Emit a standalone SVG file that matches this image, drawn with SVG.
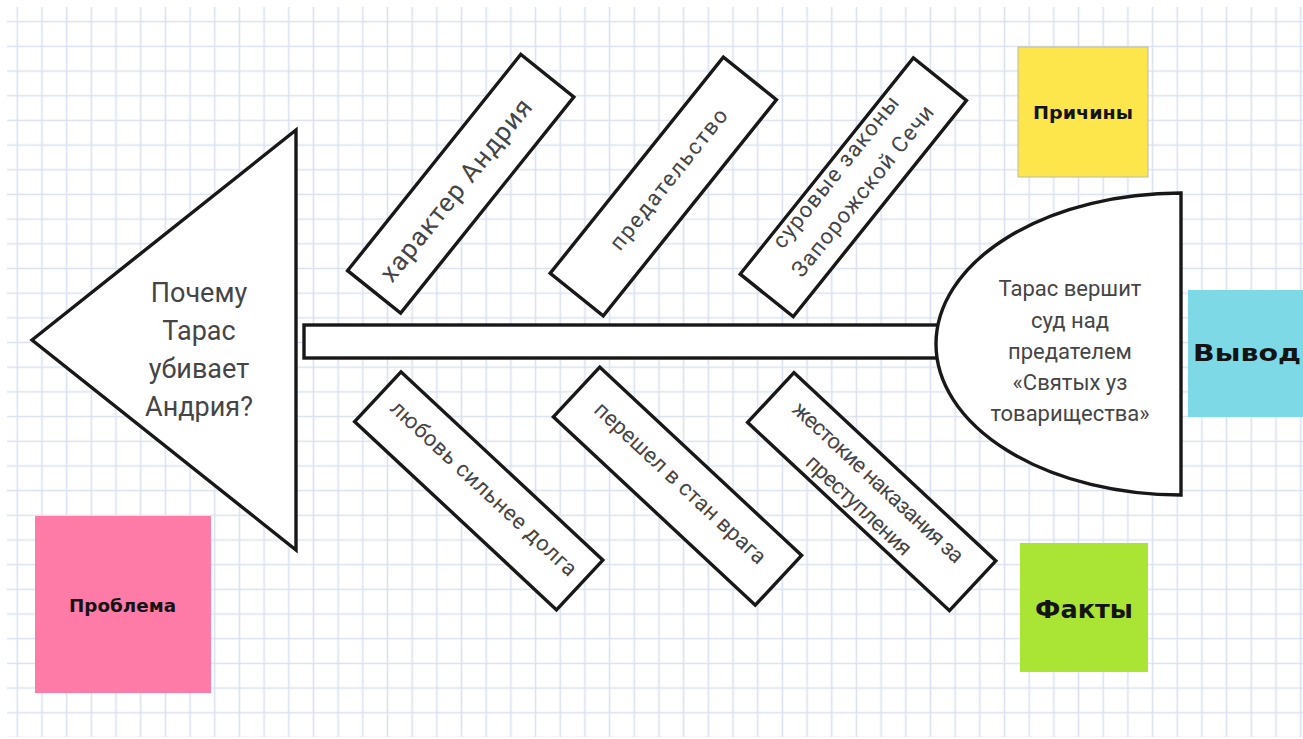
<svg xmlns="http://www.w3.org/2000/svg" width="1303" height="739" viewBox="0 0 1303 739">
<defs>
<pattern id="grid" x="4.96" y="9.36" width="24.68" height="24.68" patternUnits="userSpaceOnUse">
<path d="M12.34,0 V24.68 M0,12.34 H24.68" stroke="#dbe2ee" stroke-width="1.6" fill="none"/>
</pattern>
<style>
.shape{fill:#fff;stroke:#181818;stroke-width:3.4;stroke-linejoin:miter}
.t{font-family:Roboto,"Liberation Sans",sans-serif;fill:#454545;text-anchor:middle}
.st{font-family:"DejaVu Sans",sans-serif;font-weight:bold;text-anchor:middle;fill:#141414}
</style>
</defs>
<rect x="0" y="0" width="1303" height="739" fill="#fff"/>
<rect x="7" y="7" width="1296" height="730" fill="url(#grid)"/>

<g id="connectors">
<rect class="shape" x="304" y="325" width="660" height="33"/>
</g>

<g id="problem-head">
<polygon class="shape" points="32,340 296,130 296,550"/>
<text class="t" font-size="27"><tspan x="199" y="302">Почему</tspan><tspan x="199" y="340">Тарас</tspan><tspan x="199" y="378">убивает</tspan><tspan x="199" y="416">Андрия?</tspan></text>
</g>

<g id="conclusion-head">
<path class="shape" d="M1181,193 A245,151 0 0 0 1181,495 Z"/>
<text class="t" font-size="22"><tspan x="1070" y="296">Тарас вершит</tspan><tspan x="1070" y="328">суд над</tspan><tspan x="1070" y="359">предателем</tspan><tspan x="1070" y="390">«Святых уз</tspan><tspan x="1070" y="421">товарищества»</tspan></text>
</g>

<g id="cause-1" transform="translate(460.7,183.8) rotate(-51.3)">
<rect class="shape" x="-138.5" y="-34" width="277" height="68"/>
<text class="t" font-size="26" x="-8" y="9" textLength="226">характер Андрия</text>
</g>
<g id="cause-2" transform="translate(663.3,186.5) rotate(-51.3)">
<rect class="shape" x="-138.5" y="-34" width="277" height="68"/>
<text class="t" font-size="22" x="9" y="7" textLength="174">предательство</text>
</g>
<g id="cause-3" transform="translate(853.3,187.3) rotate(-51.3)">
<rect class="shape" x="-138.5" y="-34" width="277" height="68"/>
<text class="t" font-size="22" x="1" y="-16" textLength="188">суровые законы</text>
<text class="t" font-size="22" x="3" y="17" textLength="213">Запорожской Сечи</text>
</g>

<g id="fact-1" transform="translate(478.75,490.8) rotate(43)">
<rect class="shape" x="-138" y="-34" width="276" height="68"/>
<text class="t" font-size="22" x="2" y="2" textLength="246">любовь сильнее долга</text>
</g>
<g id="fact-2" transform="translate(677.5,486.2) rotate(43)">
<rect class="shape" x="-138" y="-34" width="276" height="68"/>
<text class="t" font-size="22" x="0" y="3" textLength="226">перешел в стан врага</text>
</g>
<g id="fact-3" transform="translate(871.7,491.7) rotate(43)">
<rect class="shape" x="-138" y="-34" width="276" height="68"/>
<text class="t" font-size="22" x="-1.5" y="-4" textLength="225">жестокие наказания за</text>
<text class="t" font-size="22" x="0" y="26" textLength="136">преступления</text>
</g>

<g id="sticky-problem">
<rect x="35" y="516" width="176" height="177" fill="#fe7ba7"/>
<text class="st" font-size="18" x="122.5" y="612" fill="#3a0c20" textLength="107" lengthAdjust="spacingAndGlyphs">Проблема</text>
</g>
<g id="sticky-causes">
<rect x="1018" y="47" width="130" height="130" fill="#fde64c" stroke="#b9bcae" stroke-width="1"/>
<text class="st" font-size="18" x="1083" y="119" textLength="100" lengthAdjust="spacingAndGlyphs">Причины</text>
</g>
<g id="sticky-conclusion">
<rect x="1188" y="290" width="115" height="127" fill="#7ed9e7"/>
<text class="st" font-size="23" x="1247" y="361" textLength="108" lengthAdjust="spacingAndGlyphs">Вывод</text>
</g>
<g id="sticky-facts">
<rect x="1020" y="543" width="128" height="129" fill="#aae434"/>
<text class="st" font-size="25" x="1084" y="618" textLength="98" lengthAdjust="spacingAndGlyphs">Факты</text>
</g>
</svg>
